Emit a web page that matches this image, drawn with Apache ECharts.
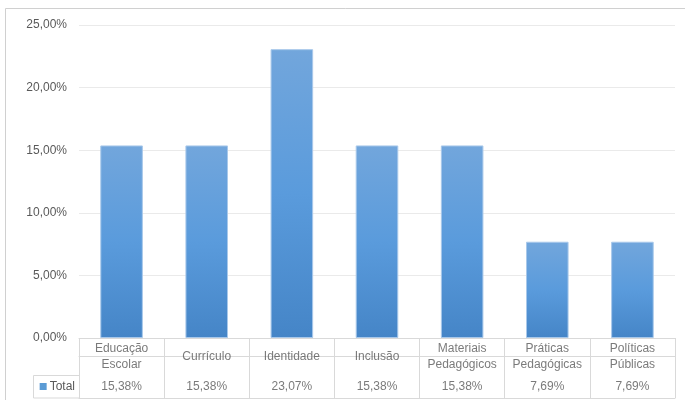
<!DOCTYPE html>
<html>
<head>
<meta charset="utf-8">
<script src="https://cdn.jsdelivr.net/npm/echarts@6/dist/echarts.min.js"></script>
<style>
  html, body { margin: 0; padding: 0; background: #fff; }
  #chart { width: 685px; height: 400px; }
</style>
</head>
<body>
<div id="chart"></div>
<script>
// Categories (two-line labels use "\n")
const categories = [
  'Educação\nEscolar',
  'Currículo',
  'Identidade',
  'Inclusão',
  'Materiais\nPedagógicos',
  'Práticas\nPedagógicas',
  'Políticas\nPúblicas'
];
// Share of each category, in percent
const totalValues = [15.38, 15.38, 23.07, 15.38, 15.38, 7.69, 7.69];
const seriesName = 'Total';
// Y axis range / step in percent
const yMax = 25;
const yStep = 5;

const textColor = '#595959';
const lineColor = '#d9d9d9';
const fontFamily = '"Liberation Sans", Arial, sans-serif';

const pct = v => v.toFixed(2).replace('.', ',') + '%';

const chart = echarts.init(document.getElementById('chart'), null, { renderer: 'canvas' });

const gridLeft = 79;
const gridRight = 10;

chart.setOption({
  animation: false,
  backgroundColor: '#ffffff',
  textStyle: { fontFamily: fontFamily },
  grid: [
    { left: gridLeft, right: gridRight, top: 25, bottom: 62 },          // bars
    { left: gridLeft, right: gridRight, top: 338, height: 37 },         // table header row
    { left: gridLeft, right: gridRight, top: 375, height: 23 }          // table value row
  ],
  xAxis: [
    {
      gridIndex: 0, type: 'category', data: categories,
      axisLine: { show: true, lineStyle: { color: lineColor } },
      axisTick: { show: false }, axisLabel: { show: false }
    },
    {
      gridIndex: 1, type: 'category', data: categories,
      axisLine: { show: true, lineStyle: { color: lineColor } },
      axisTick: { show: false }, axisLabel: { show: false },
      splitLine: { show: true, interval: 0, lineStyle: { color: lineColor } }
    },
    {
      gridIndex: 2, type: 'category', data: categories,
      axisLine: { show: true, lineStyle: { color: lineColor } },
      axisTick: { show: false }, axisLabel: { show: false },
      splitLine: { show: true, interval: 0, lineStyle: { color: lineColor } }
    }
  ],
  yAxis: [
    {
      gridIndex: 0, type: 'value', min: 0, max: yMax, interval: yStep,
      axisLine: { show: false }, axisTick: { show: false },
      axisLabel: {
        margin: 12, color: textColor, fontSize: 12, fontFamily: fontFamily,
        formatter: v => pct(v)
      },
      splitLine: { show: true, lineStyle: { color: '#eaeaea' } }
    },
    {
      gridIndex: 1, type: 'value', min: -1, max: 1, show: false
    },
    {
      gridIndex: 2, type: 'category', data: [seriesName],
      axisLine: { show: true, lineStyle: { color: lineColor } },
      axisTick: { show: false },
      axisLabel: {
        margin: 4, color: textColor, fontSize: 12, fontFamily: fontFamily,
        formatter: v => '{m|}{t|' + v + '}',
        rich: {
          m: { width: 7, height: 7, backgroundColor: '#5b9bd5' },
          t: { color: textColor, fontSize: 12, fontFamily: fontFamily, padding: [0, 0, 0, 3] }
        }
      }
    }
  ],
  graphic: [
    {
      // chart frame
      type: 'polyline', silent: true,
      shape: { points: [[5.5, 400], [5.5, 8.5], [685, 8.5]] },
      style: { stroke: '#d0d0d0', fill: null, lineWidth: 1 }
    },
    {
      // legend key cell of the data table
      type: 'rect', silent: true,
      shape: { x: 33.5, y: 375.5, width: 46, height: 22.5 },
      style: { stroke: lineColor, fill: null, lineWidth: 1 }
    }
  ],
  series: [
    {
      name: seriesName,
      type: 'bar',
      xAxisIndex: 0, yAxisIndex: 0,
      data: totalValues,
      barWidth: '50%',
      itemStyle: {
        color: new echarts.graphic.LinearGradient(0, 0, 0, 1, [
          { offset: 0, color: '#72a6dc' },
          { offset: 0.5, color: '#5a9bdc' },
          { offset: 1, color: '#4585c7' }
        ]),
        borderColor: '#a8c8ea',
        borderWidth: 1
      }
    },
    {
      // table header: category names
      type: 'scatter',
      xAxisIndex: 1, yAxisIndex: 1,
      symbolSize: 0,
      silent: true,
      data: categories.map((c, i) => [i, 0]),
      label: {
        show: true, position: 'inside',
        color: textColor, fontSize: 12, fontFamily: fontFamily, lineHeight: 16, align: 'center',
        formatter: p => categories[p.dataIndex]
      }
    },
    {
      // table values row
      type: 'scatter',
      xAxisIndex: 2, yAxisIndex: 2,
      symbolSize: 0,
      silent: true,
      data: totalValues.map((v, i) => [i, 0, v]),
      label: {
        show: true, position: 'inside',
        color: textColor, fontSize: 12, fontFamily: fontFamily,
        formatter: p => pct(p.data[2])
      }
    }
  ]
});
</script>
</body>
</html>
